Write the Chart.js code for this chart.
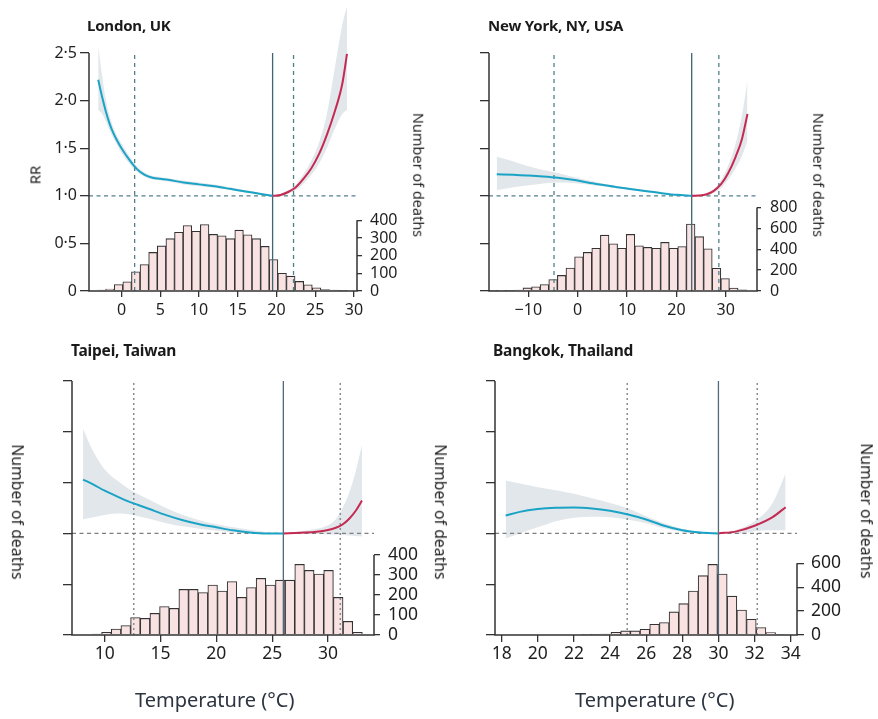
<!DOCTYPE html>
<html><head><meta charset="utf-8">
<script src="https://cdn.jsdelivr.net/npm/chart.js@4.4.1/dist/chart.umd.min.js"></script>
<style>
html,body{margin:0;padding:0;background:#fff;}
#wrap{position:relative;width:878px;height:719px;overflow:hidden;font-family:'Noto Sans',sans-serif;color:#1f1f1f;}
canvas{position:absolute;}
.t{position:absolute;white-space:nowrap;line-height:1;}
.ttl{font-weight:700;color:#1a1a1a;letter-spacing:-0.2px;}
.rot{transform:translate(-50%,-50%) rotate(90deg);}
.rotl{transform:translate(-50%,-50%) rotate(-90deg);}
</style></head><body>
<div id="wrap">
<canvas id="c1" width="440" height="330" style="left:0;top:0"></canvas>
<canvas id="c2" width="438" height="330" style="left:440px;top:0"></canvas>
<canvas id="c3" width="440" height="389" style="left:0;top:330px"></canvas>
<canvas id="c4" width="438" height="389" style="left:440px;top:330px"></canvas>

<div class="t ttl" style="left:87px;top:18px;font-size:15px">London, UK</div>
<div class="t ttl" style="left:488px;top:18px;font-size:15px">New York, NY, USA</div>
<div class="t ttl" style="left:71px;top:343px;font-size:15.5px">Taipei, Taiwan</div>
<div class="t ttl" style="left:493px;top:343px;font-size:15.5px">Bangkok, Thailand</div>

<div class="t rotl" style="left:35px;top:175px;font-size:15px">RR</div>
<div class="t rot" style="left:419px;top:175px;font-size:14.5px">Number of deaths</div>
<div class="t rot" style="left:819px;top:175px;font-size:14.5px">Number of deaths</div>
<div class="t rot" style="left:17px;top:512px;font-size:15.8px">Number of deaths</div>
<div class="t rot" style="left:440px;top:512px;font-size:15.8px">Number of deaths</div>
<div class="t rot" style="left:866px;top:511px;font-size:15.8px">Number of deaths</div>

<div class="t" style="left:135px;top:690px;font-size:20px;color:#2c3440">Temperature (°C)</div>
<div class="t" style="left:575px;top:690px;font-size:20px;color:#2c3440">Temperature (°C)</div>
</div>

<script>
// ---------- London, UK ----------
const londonBinTemps = [-2.600,-1.489,-0.378,0.733,1.844,2.955,4.066,5.177,6.288,7.399,8.510,9.621,10.732,11.843,12.954,14.065,15.176,16.287,17.398,18.509,19.620,20.731,21.842,22.953,24.064,25.175,26.286,27.397,28.508];
const londonDeaths   = [5,11,37,52,109,150,218,255,296,332,370,338,376,320,312,296,344,318,296,252,178,100,84,54,35,18,8,5,2];
const londonCurveTemps = [-3.0,-2.5,-2.0,-1.5,-1.0,-0.5,0,1,2,3,4,5,6,8,10,12,14,16,18,19.5,20.5,21.5,22.5,23.5,24.5,25.5,26.5,27.5,28.5,29.1];
const londonRR   = [2.22,2.04,1.88,1.75,1.65,1.57,1.50,1.38,1.28,1.22,1.19,1.178,1.168,1.14,1.12,1.10,1.073,1.045,1.02,1.0,1.008,1.04,1.09,1.18,1.29,1.44,1.64,1.88,2.18,2.49];
const londonLow  = [1.90,1.86,1.78,1.68,1.60,1.52,1.45,1.34,1.25,1.20,1.17,1.16,1.15,1.12,1.10,1.085,1.06,1.035,1.012,1.0,0.998,1.02,1.06,1.13,1.22,1.34,1.50,1.70,1.86,1.90];
const londonHigh = [2.58,2.26,2.00,1.83,1.71,1.62,1.55,1.42,1.31,1.245,1.21,1.195,1.185,1.16,1.14,1.12,1.09,1.06,1.028,1.0,1.02,1.06,1.12,1.23,1.37,1.56,1.86,2.33,2.80,2.99];
const londonMMT = 19.5;
const londonCuts = [1.7, 22.2];
const londonTempTicks = [0,5,10,15,20,25,30];
const londonRRTicks = [0,0.5,1,1.5,2,2.5];
const londonDeathTicks = [0,100,200,300,400];

// ---------- New York, NY, USA ----------
const nyBinTemps = [-17.190,-15.447,-13.704,-11.961,-10.218,-8.475,-6.732,-4.989,-3.246,-1.503,0.240,1.983,3.726,5.469,7.212,8.955,10.698,12.441,14.184,15.927,17.670,19.413,21.156,22.899,24.642,26.385,28.128,29.871,31.614,33.357];
const nyDeaths   = [4,2,3,8,30,40,62,110,149,220,328,370,409,535,452,409,542,433,418,409,466,409,426,641,521,405,218,120,28,12];
const nyCurveTemps = [-16.4,-13,-10,-7,-4,-1,2,5,8,11,14,17,20,23.1,24.5,26,27.5,29,30.5,32,33.3,34.4];
const nyRR   = [1.227,1.220,1.213,1.203,1.189,1.168,1.140,1.115,1.091,1.07,1.049,1.028,1.01,1.0,1.003,1.014,1.049,1.119,1.24,1.41,1.60,1.86];
const nyLow  = [1.06,1.09,1.11,1.13,1.14,1.135,1.12,1.10,1.08,1.06,1.04,1.022,1.006,1.0,0.995,1.0,1.03,1.08,1.17,1.29,1.42,1.58];
const nyHigh = [1.41,1.36,1.31,1.27,1.24,1.20,1.165,1.13,1.10,1.08,1.058,1.034,1.014,1.0,1.01,1.03,1.07,1.16,1.32,1.55,1.85,2.21];
const nyMMT = 23.1;
const nyCuts = [-4.8, 28.6];
const nyTempTicks = [-10,0,10,20,30];
const nyRRTicks = [0,0.5,1,1.5,2,2.5];
const nyDeathTicks = [0,200,400,600,800];

// ---------- Taipei, Taiwan ----------
const taipeiBinTemps = [9.290,10.155,11.020,11.885,12.750,13.615,14.480,15.345,16.210,17.075,17.940,18.805,19.670,20.535,21.400,22.265,23.130,23.995,24.860,25.725,26.590,27.455,28.320,29.185,30.050,30.915,31.780,32.645];
const taipeiDeaths   = [5,13,30,47,87,83,108,142,133,228,228,212,250,220,267,188,237,283,250,274,274,353,323,305,323,188,68,13];
const taipeiCurveTemps = [8.06,9,10,11,12,13,14,15.5,17,18.5,20,21.5,23,24.5,26.0,27.5,29,30,30.7,31.3,31.9,32.5,33.04];
const taipeiRR   = [1.53,1.48,1.42,1.37,1.32,1.28,1.24,1.18,1.13,1.09,1.06,1.03,1.01,1.0,1.0,1.007,1.016,1.033,1.056,1.088,1.144,1.225,1.324];
const taipeiLow  = [1.14,1.16,1.18,1.195,1.19,1.17,1.145,1.10,1.07,1.045,1.025,1.01,1.0,0.998,1.0,0.997,0.995,0.99,0.99,0.985,0.98,0.975,0.97];
const taipeiHigh = [2.03,1.80,1.63,1.53,1.45,1.385,1.33,1.25,1.18,1.13,1.09,1.06,1.035,1.012,1.0,1.02,1.045,1.08,1.14,1.25,1.40,1.62,1.87];
const taipeiMMT = 26.0;
const taipeiCuts = [12.6, 31.1];
const taipeiTempTicks = [10,15,20,25,30];
const taipeiRRTicks = [0,0.5,1,1.5,2,2.5];
const taipeiDeathTicks = [0,100,200,300,400];

// ---------- Bangkok, Thailand ----------
const bangkokBinTemps = [22.712,23.248,23.784,24.320,24.856,25.392,25.928,26.464,27.000,27.536,28.072,28.608,29.144,29.680,30.216,30.752,31.288,31.824,32.360,32.896,33.432];
const bangkokDeaths   = [2,5,8,22,34,34,48,90,104,193,262,368,497,591,510,325,209,131,63,21,6];
const bangkokCurveTemps = [18.22,19,20,21,22,23,24,25,26,27,28,29,30,31,32,33,33.72];
const bangkokRR   = [1.176,1.212,1.239,1.252,1.255,1.245,1.222,1.186,1.137,1.075,1.03,1.008,1.0,1.02,1.075,1.16,1.258];
const bangkokLow  = [0.95,1.0,1.06,1.12,1.155,1.165,1.16,1.135,1.10,1.05,1.015,1.0,1.0,0.995,1.02,1.03,1.03];
const bangkokHigh = [1.52,1.49,1.455,1.425,1.39,1.345,1.30,1.245,1.17,1.10,1.045,1.012,1.0,1.035,1.12,1.30,1.59];
const bangkokMMT = 30.0;
const bangkokCuts = [24.95, 32.15];
const bangkokTempTicks = [18,20,22,24,26,28,30,32,34];
const bangkokRRTicks = [0,0.5,1,1.5,2,2.5];
const bangkokDeathTicks = [0,200,400,600];

// ---------- drawing ----------
const TEXT = '#1f1f1f';
Chart.defaults.font.family = "'Noto Sans', sans-serif";
Chart.defaults.color = TEXT;

const axisLines = {
  id: 'axisLines',
  afterDatasetsDraw(chart, args, o) {
    const {ctx, chartArea, scales} = chart;
    ctx.save();
    ctx.strokeStyle = o.color; ctx.lineWidth = o.width; ctx.lineCap = 'butt';
    ctx.beginPath();
    const yb = scales.y.getPixelForValue(0);
    ctx.moveTo(chartArea.left, yb + 0.75);
    ctx.lineTo(chartArea.left, scales.y.getPixelForValue(o.rrTop));
    ctx.moveTo(chartArea.right, scales.y2.getPixelForValue(0) + 0.75);
    ctx.lineTo(chartArea.right, scales.y2.getPixelForValue(o.deathTop));
    ctx.moveTo(chartArea.left - 0.75, yb);
    ctx.lineTo(chartArea.right + 0.75, yb);
    ctx.stroke();
    ctx.restore();
  }
};

function fmtRR(v){ return v === 0 ? '0' : v.toFixed(1).replace('.', '\u00B7'); }
function fmtT(v){ return v < 0 ? '\u2212' + Math.abs(v) : String(v); }
function noPad(s){ s.paddingTop = 0; s.paddingBottom = 0; s.paddingLeft = 0; s.paddingRight = 0; }

function makePanel(p) {
  const top = p.style === 'top';
  const cold = [], hot = [];
  p.curveT.forEach((t, i) => {
    if (t <= p.mmt) cold.push({x: t, y: p.rr[i]});
    if (t >= p.mmt) hot.push({x: t, y: p.rr[i]});
  });
  const base = {type: 'line', pointRadius: 0, pointHoverRadius: 0, fill: false};
  const vline = (v, color, dash, w) => Object.assign({}, base, {
    data: [{x: v, y: 0}, {x: v, y: p.rrTicks[p.rrTicks.length - 1]}],
    borderColor: color, borderDash: dash, borderWidth: w, order: 2
  });
  const dashColor = top ? '#52808a' : '#848e93';
  const hDashColor = top ? '#52808a' : '#7f7f7f';
  const mmtColor = top ? '#3d6670' : '#51697a';
  const vDash = top ? [4, 4] : [2, 3];
  const datasets = [
    Object.assign({}, base, {data: p.curveT.map((t, i) => ({x: t, y: p.hi[i]})), borderWidth: 0,
      backgroundColor: '#e2e7eb', fill: '+1', cubicInterpolationMode: 'monotone', order: 5}),
    Object.assign({}, base, {data: p.curveT.map((t, i) => ({x: t, y: p.lo[i]})), borderWidth: 0,
      cubicInterpolationMode: 'monotone', order: 5}),
    {type: 'bar', yAxisID: 'y2', data: p.bins.map((t, i) => ({x: t, y: p.deaths[i]})),
      backgroundColor: '#f9e2e2', borderColor: '#333', borderWidth: 1.1,
      barPercentage: 1, categoryPercentage: 1, order: 4},
    Object.assign({}, base, {data: [{x: p.xMin, y: 1}, {x: p.xMax, y: 1}],
      borderColor: hDashColor, borderDash: [4, 3.5], borderWidth: 1.3, order: 2}),
    vline(p.cuts[0], dashColor, vDash, top ? 1.3 : 1.5),
    vline(p.cuts[1], dashColor, vDash, top ? 1.3 : 1.5),
    vline(p.mmt, mmtColor, [], 1.3),
    Object.assign({}, base, {data: cold, borderColor: '#1ba3c6', borderWidth: 2,
      cubicInterpolationMode: 'monotone', order: 1}),
    Object.assign({}, base, {data: hot, borderColor: '#c52a52', borderWidth: 2,
      cubicInterpolationMode: 'monotone', order: 1})
  ];
  const gridTick = len => ({display: true, drawOnChartArea: false, drawTicks: true, offset: false,
    tickLength: len, color: '#333', lineWidth: 1.3});
  new Chart(document.getElementById(p.id), {
    type: 'line',
    data: {datasets},
    plugins: [axisLines],
    options: {
      responsive: false, animation: false, events: [],
      layout: {autoPadding: false, padding: {top: p.padTop, left: 0, right: 0, bottom: 0}},
      plugins: {legend: {display: false}, tooltip: {enabled: false},
        axisLines: {color: '#333', width: 1.5, rrTop: p.rrTicks[p.rrTicks.length - 1],
          deathTop: p.deathTicks[p.deathTicks.length - 1]}},
      scales: {
        x: {type: 'linear', position: 'bottom', min: p.xMin, max: p.xMax, offset: false,
          afterBuildTicks: s => { s.ticks = p.xTicks.map(v => ({value: v})); },
          afterFit: s => { s.height = p.xH; noPad(s); },
          ticks: {autoSkip: false, maxRotation: 0, minRotation: 0, padding: p.xPad,
            font: {size: p.font}, color: TEXT, callback: v => fmtT(v)},
          grid: gridTick(p.xTickLen), border: {display: false}},
        y: {type: 'linear', position: 'left', min: 0, max: p.yMax,
          afterBuildTicks: s => { s.ticks = p.rrTicks.map(v => ({value: v})); },
          afterFit: s => { s.width = p.yW; noPad(s); },
          ticks: {autoSkip: false, padding: 3, font: {size: p.font}, color: TEXT,
            callback: v => p.rrLabels ? fmtRR(v) : ''},
          grid: gridTick(9), border: {display: false}},
        y2: {type: 'linear', position: 'right', min: 0, max: p.y2Max, beginAtZero: true,
          afterBuildTicks: s => { s.ticks = p.deathTicks.map(v => ({value: v})); },
          afterFit: s => { s.width = p.y2W; noPad(s); },
          ticks: {autoSkip: false, padding: p.y2Pad, font: {size: p.font}, color: TEXT,
            callback: v => String(v)},
          grid: gridTick(p.y2TickLen), border: {display: false}}
      }
    }
  });
}

makePanel({id: 'c1', style: 'top', bins: londonBinTemps, deaths: londonDeaths,
  curveT: londonCurveTemps, rr: londonRR, lo: londonLow, hi: londonHigh,
  mmt: londonMMT, cuts: londonCuts, xTicks: londonTempTicks, rrTicks: londonRRTicks,
  deathTicks: londonDeathTicks, rrLabels: true,
  xMin: -4.19, xMax: 30.39, yMax: 3.0, y2Max: 1615, padTop: 5.4,
  yW: 89, y2W: 83, xH: 39, font: 16, xTickLen: 6, xPad: 4, y2TickLen: 5, y2Pad: 8});

makePanel({id: 'c2', style: 'top', bins: nyBinTemps, deaths: nyDeaths,
  curveT: nyCurveTemps, rr: nyRR, lo: nyLow, hi: nyHigh,
  mmt: nyMMT, cuts: nyCuts, xTicks: nyTempTicks, rrTicks: nyRRTicks,
  deathTicks: nyDeathTicks, rrLabels: false,
  xMin: -17.97, xMax: 36.33, yMax: 2.5, y2Max: 2280, padTop: 53,
  yW: 49, y2W: 121, xH: 39, font: 16, xTickLen: 6, xPad: 4, y2TickLen: 4, y2Pad: 9});

makePanel({id: 'c3', style: 'bottom', bins: taipeiBinTemps, deaths: taipeiDeaths,
  curveT: taipeiCurveTemps, rr: taipeiRR, lo: taipeiLow, hi: taipeiHigh,
  mmt: taipeiMMT, cuts: taipeiCuts, xTicks: taipeiTempTicks, rrTicks: taipeiRRTicks,
  deathTicks: taipeiDeathTicks, rrLabels: false,
  xMin: 7.07, xMax: 34.12, yMax: 2.5, y2Max: 1270, padTop: 51,
  yW: 72, y2W: 66, xH: 84, font: 17.5, xTickLen: 7, xPad: 2, y2TickLen: 6, y2Pad: 8});

makePanel({id: 'c4', style: 'bottom', bins: bangkokBinTemps, deaths: bangkokDeaths,
  curveT: bangkokCurveTemps, rr: bangkokRR, lo: bangkokLow, hi: bangkokHigh,
  mmt: bangkokMMT, cuts: bangkokCuts, xTicks: bangkokTempTicks, rrTicks: bangkokRRTicks,
  deathTicks: bangkokDeathTicks, rrLabels: false,
  xMin: 17.63, xMax: 34.35, yMax: 2.5, y2Max: 2126, padTop: 51,
  yW: 55, y2W: 81, xH: 84, font: 17.5, xTickLen: 7, xPad: 2, y2TickLen: 7, y2Pad: 7});
</script>
</body></html>
